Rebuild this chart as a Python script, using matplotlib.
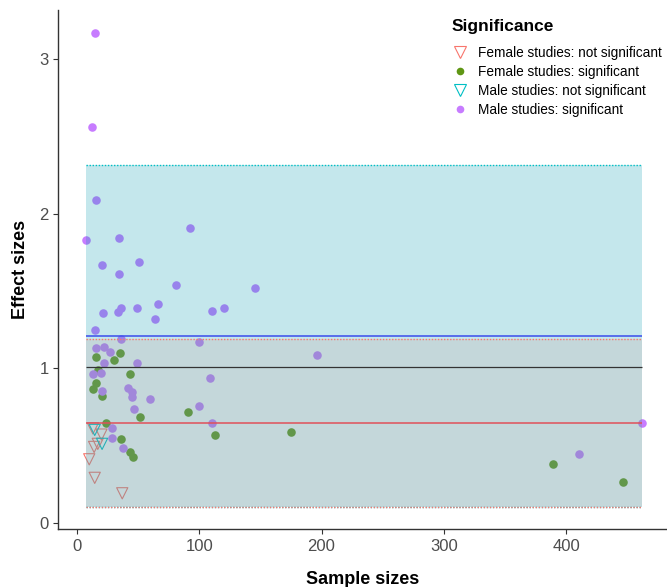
import matplotlib
matplotlib.use("Agg")
import matplotlib.pyplot as plt
from matplotlib.lines import Line2D

plt.rcParams["font.family"] = ["Liberation Sans", "DejaVu Sans"]

# --- data --------------------------------------------------------------
fem_ns_n  = [13, 20, 17, 14, 10, 14.5, 37]
fem_ns_es = [0.61, 0.57, 0.51, 0.49, 0.41, 0.29, 0.19]

fem_s_n  = [15.5, 35.5, 30.5, 17.5, 43.6, 15.5, 12.8, 20.5, 51.3, 23.7,
            36, 43.6, 45.8, 90.5, 112.5, 175, 389.6, 446.6]
fem_s_es = [1.07, 1.10, 1.055, 0.985, 0.963, 0.905, 0.865, 0.82, 0.685, 0.647,
            0.541, 0.455, 0.425, 0.715, 0.565, 0.588, 0.38, 0.261]

male_ns_n  = [14.5, 20.5]
male_ns_es = [0.60, 0.51]

male_s_n  = [14.7, 12.3, 15.5, 7.4, 34.6, 20.2, 34.6, 50.5, 81.2, 92.4,
             145.4, 21.5, 33.3, 36, 49.1, 66.3, 63.6, 110.2, 120, 14.7,
             36, 99.5, 196, 15.5, 22.3, 27.3, 21.8, 49.1, 12.8, 19.6,
             20.5, 41.7, 44.7, 44.7, 59.5, 46.6, 109, 100, 110.4, 28.6,
             28.6, 37.7, 462.3, 410.9]
male_s_es = [3.17, 2.56, 2.09, 1.83, 1.84, 1.665, 1.61, 1.69, 1.54, 1.91,
             1.52, 1.36, 1.365, 1.39, 1.39, 1.415, 1.315, 1.372, 1.39, 1.245,
             1.19, 1.17, 1.087, 1.13, 1.14, 1.105, 1.036, 1.036, 0.96, 0.97,
             0.852, 0.87, 0.847, 0.815, 0.80, 0.736, 0.935, 0.755, 0.647, 0.61,
             0.55, 0.48, 0.645, 0.443]

male_mean, overall_mean, female_mean = 1.21, 1.01, 0.647
male_ci = (0.10, 2.315)
female_ci = (0.10, 1.19)

labels = ["Female studies: not significant", "Female studies: significant",
          "Male studies: not significant", "Male studies: significant"]
PINK, GREEN, CYAN, PURPLE = "#F8766D", "#5F9614", "#00BFC4", "#C77CFF"

# --- figure ---------------------------------------------------------------
fig = plt.figure(figsize=(6.67, 5.87), dpi=100)
ax = fig.add_axes([0.0874, 0.0983, 0.9126, 0.8847])

ax.scatter(fem_ns_n, fem_ns_es, marker="v", s=65, facecolors="none",
           edgecolors=PINK, linewidths=0.8, zorder=1)
ax.scatter(fem_s_n, fem_s_es, marker="o", s=38, color=GREEN, lw=0, zorder=1)
ax.scatter(male_ns_n, male_ns_es, marker="v", s=65, facecolors="none",
           edgecolors=CYAN, linewidths=0.8, zorder=1)
ax.scatter(male_s_n, male_s_es, marker="o", s=38, color=PURPLE, lw=0, zorder=1)

all_n = fem_ns_n + fem_s_n + male_ns_n + male_s_n
x0, x1 = min(all_n), max(all_n)

# confidence bands drawn over the points, as in the original
ax.fill_between([x0, x1], *male_ci, color="#009BB0", alpha=0.23, lw=0, zorder=2)
ax.fill_between([x0, x1], *female_ci, color="#C99893", alpha=0.2, lw=0, zorder=2)
dot = (0, (1, 1.2))
ax.hlines(male_ci, x0, x1, colors=CYAN, linestyles=dot, lw=1, zorder=3)
ax.hlines(female_ci, x0, x1, colors=PINK, linestyles=dot, lw=1, zorder=3)

ax.hlines(male_mean, x0, x1, colors="#3A4DEB", lw=1.1, zorder=4)
ax.hlines(overall_mean, x0, x1, colors="#333333", lw=0.9, zorder=4)
ax.hlines(female_mean, x0, x1, colors="#E0505A", lw=1.1, zorder=4)

ax.set_xlim(-15.3, 482.6)
ax.set_ylim(-0.043, 3.318)
ax.set_xticks([0, 100, 200, 300, 400])
ax.set_yticks([0, 1, 2, 3])
for s in ("top", "right"):
    ax.spines[s].set_visible(False)
for s in ("left", "bottom"):
    ax.spines[s].set_color("#333333")
    ax.spines[s].set_linewidth(1)
ax.tick_params(colors="#333333", labelcolor="#4D4D4D", labelsize=12,
               length=3.5, width=0.8)
ax.set_xlabel("Sample sizes", fontsize=13, fontweight="bold", labelpad=12)
ax.set_ylabel("Effect sizes", fontsize=13, fontweight="bold", labelpad=7)

handles = [
    Line2D([], [], ls="", marker="v", ms=8.5, mfc="none", mec=PINK, mew=0.8),
    Line2D([], [], ls="", marker="o", ms=5.5, color=GREEN, mew=0),
    Line2D([], [], ls="", marker="v", ms=8.5, mfc="none", mec=CYAN, mew=0.8),
    Line2D([], [], ls="", marker="o", ms=5.5, color=PURPLE, mew=0),
]
fig.text(452 / 667, 1 - 26 / 587, "Significance", fontsize=12.5,
         fontweight="bold", ha="left", va="center")
fig.legend(handles, labels, loc="upper left", bbox_to_anchor=(0.663, 0.9385),
           frameon=False, fontsize=9.8, handlelength=1.2, handletextpad=0.75,
           labelspacing=0.38, borderpad=0.2)

fig.savefig("out.png", dpi=100)
